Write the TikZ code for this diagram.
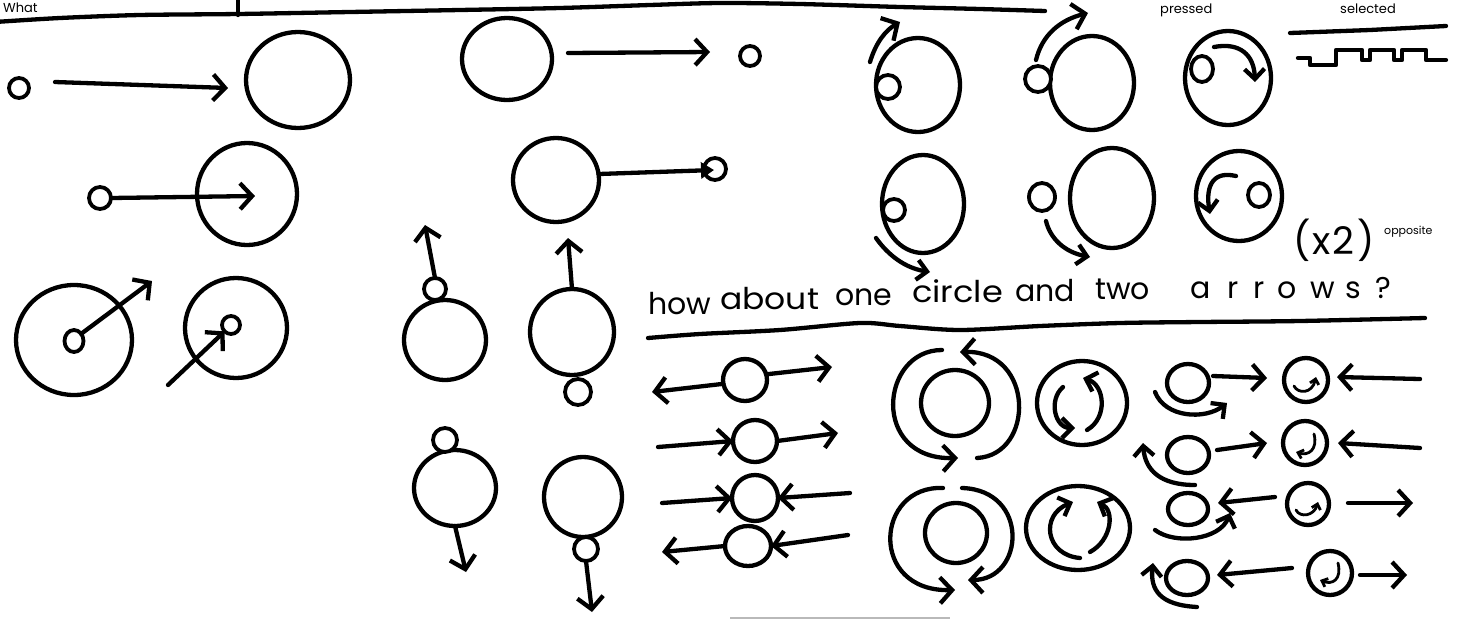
\documentclass[tikz,border=0pt]{standalone}
\usepackage{fontspec}
\setmainfont{Poppins}
\usetikzlibrary{arrows.meta,shapes.geometric}
\begin{document}
\begin{tikzpicture}[x=1pt,y=-1pt,
  ln/.style={line width=4.3pt,line cap=round,line join=round},
  ring/.style={draw,ellipse,line width=4.3pt,inner sep=0pt,outer sep=0pt},
  dot/.style={draw,ellipse,line width=3.8pt,inner sep=0pt,outer sep=0pt,fill=white},
  arr/.style={ln,-{Straight Barb[length=12pt,width=26pt]}},
  sarr/.style={ln,-{Straight Barb[length=10pt,width=20pt]}},
  tarr/.style={line width=2.8pt,line cap=round,-{Straight Barb[length=5pt,width=9pt]}},
  hand/.style={font=\fontsize{30}{30}\selectfont,inner sep=0pt,anchor=base west}
]
\useasboundingbox (0,0) rectangle (1467,619);
\clip (0,0) rectangle (1467,619);
\fill[white] (0,0) rectangle (1467,619);

% ---------- header ----------
\draw[ln] plot[smooth] coordinates {(-5,22) (60,18) (140,15) (238,14) (350,12) (460,10) (560,8) (650,5) (720,3) (800,4) (900,7) (980,9) (1045,11)};
\draw[ln] (238,-2) -- (238,15);
\node[hand,font=\fontsize{13}{13}\selectfont] (tWhat) at (3,12) {What};
\node[hand,font=\fontsize{13}{13}\selectfont] (tPressed) at (1160,13) {pressed};
\node[hand,font=\fontsize{13}{13}\selectfont] (tSelected) at (1340,13) {selected};
\draw[ln] (1290,33) -- (1370,30) -- (1446,26);
\draw[ln] (1298,58)--(1310,58)--(1310,65)--(1336,65)--(1336,50)--(1362,50)--(1362,60)--(1370,60)--(1370,50)--(1394,50)--(1394,60)--(1402,60)--(1402,50)--(1426,50)--(1426,60)--(1446,60);

% ---------- left block ----------
\node[dot,minimum size=20pt] (l1s) at (19,88) {};
\node[ring,minimum width=104pt,minimum height=96pt] (l1b) at (298,80) {};
\coordinate (l1a) at (55,82);
\coordinate (l1e) at (228,88);
\draw[arr] (l1a) -- (l1e);

\node[ring,minimum width=90pt,minimum height=82pt] (l2b) at (507,59) {};
\node[dot,minimum size=20pt] (l2s) at (750,56) {};
\coordinate (l2a) at (568,53);
\coordinate (l2e) at (710,52);
\draw[arr] (l2a) -- (l2e);

\node[ring,minimum width=86pt,minimum height=84pt] (l3b) at (556,180) {};
\node[dot,minimum size=22pt] (l3s) at (715,169) {};
\coordinate (l3e) at (714,170);
\draw[ln,-{Triangle[length=13pt,width=16pt]}] (l3b.8) -- (l3e);

\node[ring,minimum width=100pt,minimum height=102pt] (l4b) at (247,194) {};
\node[dot,minimum size=22pt] (l4s) at (100,198) {};
\coordinate (l4e) at (255,196);
\draw[arr] (l4s.east) -- (l4e);

\node[ring,minimum width=116pt,minimum height=110pt] (l5b) at (74,340) {};
\node[dot,minimum width=19pt,minimum height=22pt] (l5s) at (74,341) {};
\coordinate (l5e) at (152,281);
\draw[arr] (l5s.45) -- (l5e);

\node[ring,minimum width=102pt,minimum height=100pt] (l6b) at (236,328) {};
\node[dot,minimum size=18pt] (l6s) at (231,325) {};
\coordinate (l6a) at (168,385);
\draw[arr] (l6a) -- (l6s.225);

% ---------- middle block ----------
\node[ring,minimum width=82pt,minimum height=80pt] (mA) at (445,340) {};
\node[dot,minimum size=22pt] (mAs) at (435,289) {};
\coordinate (mAe) at (425,225);
\draw[arr] (mAs.north) -- (mAe);

\node[ring,minimum width=84pt,minimum height=86pt] (mB) at (572,332) {};
\node[dot,minimum size=26pt] (mBs) at (578,392) {};
\coordinate (mBe) at (568,238);
\draw[arr] (mB.north) -- (mBe);

\node[ring,minimum width=82pt,minimum height=76pt] (mC) at (455,488) {};
\node[dot,minimum size=24pt] (mCs) at (445,440) {};
\coordinate (mCe) at (466,572);
\draw[arr] (mC.south) -- (mCe);

\node[ring,minimum width=78pt,minimum height=80pt] (mD) at (583,497) {};
\node[dot,minimum size=24pt] (mDs) at (586,549) {};
\coordinate (mDe) at (592,612);
\draw[arr] (mDs.south) -- (mDe);

% ---------- top-right block ----------
\node[ring,minimum width=84pt,minimum height=94pt] (tA) at (918,85) {};
\node[dot,minimum size=24pt] (tAs) at (888,87) {};
\draw[arr] (870,62) .. controls (876,42) and (886,30) .. (900,22);

\node[ring,minimum width=84pt,minimum height=94pt] (tB) at (1092,83) {};
\node[dot,minimum size=26pt] (tBs) at (1038,79) {};
\draw[arr] (1036,60) .. controls (1042,35) and (1060,20) .. (1088,13);

\node[ring,minimum width=86pt,minimum height=94pt] (tC) at (1228,78) {};
\node[dot,minimum width=22pt,minimum height=26pt] (tCs) at (1202,69) {};
\draw[sarr] (1214,47) .. controls (1240,42) and (1254,55) .. (1255,82);

\node[ring,minimum width=82pt,minimum height=98pt] (tD) at (923,204) {};
\node[dot,minimum size=22pt] (tDs) at (894,210) {};
\draw[sarr] (876,238) .. controls (888,255) and (905,268) .. (930,272);

\node[ring,minimum width=84pt,minimum height=100pt] (tE) at (1112,198) {};
\node[dot,minimum width=26pt,minimum height=28pt] (tEs) at (1042,197) {};
\draw[sarr] (1046,221) .. controls (1050,238) and (1064,252) .. (1090,257);

\node[ring,minimum width=86pt,minimum height=90pt] (tF) at (1239,196) {};
\node[dot,minimum width=22pt,minimum height=24pt] (tFs) at (1259,195) {};
\draw[sarr] (1236,176) .. controls (1210,170) and (1206,190) .. (1210,214);

\node[font=\fontsize{38}{38}\selectfont,inner sep=0pt] (tX2) at (1334,240) {(\kern2pt x\kern1pt 2\kern3pt)};
\node[font=\fontsize{11}{11}\selectfont,inner sep=0pt,anchor=west] (tOpp) at (1384,232) {opposite};

% ---------- question ----------
\node[hand] (w1) at (648,314) {how};
\node[hand] (w2) at (720,309) {\scalebox{1.1}[1]{about}};
\node[hand] (w3) at (835,305) {one};
\node[hand] (w4) at (912,302) {\scalebox{1.12}[1]{circle}};
\node[hand] (w5) at (1015,301) {and};
\node[hand] (w6) at (1095,299) {two};
\node[hand] (w7) at (1190,298) {a\kern17pt r\kern15pt r\kern13pt o\kern13pt w\kern11pt s\kern14pt ?};
\draw[ln] plot[smooth] coordinates {(648,338) (700,334) (780,330) (860,323) (900,326) (960,330) (1040,326) (1120,323) (1200,322) (1300,321) (1425,318)};

% ---------- bottom-left rows ----------
\node[ring,minimum width=44pt,minimum height=42pt] (b1) at (745,380) {};
\draw[arr] (b1.190) -- (652,392);
\draw[arr] (b1.15) -- (832,367);
\node[ring,minimum width=44pt,minimum height=42pt] (b2) at (755,441) {};
\draw[arr] (658,447) -- (b2.west);
\draw[arr] (b2.east) -- (838,433);
\node[ring,minimum width=46pt,minimum height=46pt] (b3) at (755,498) {};
\draw[arr] (662,503) -- (b3.west);
\draw[arr] (850,493) -- (b3.east);
\node[ring,minimum width=46pt,minimum height=40pt] (b4) at (748,546) {};
\draw[arr] (b4.west) -- (662,552);
\draw[arr] (848,535) -- (b4.east);

% ---------- rotating rings ----------
\node[ring,minimum width=68pt,minimum height=66pt] (rg1) at (955,403) {};
\draw[arr] (942,350) .. controls (880,350) and (870,460) .. (958,458);
\draw[arr] (977,458) .. controls (1035,455) and (1035,350) .. (960,352);
\node[ring,minimum width=62pt,minimum height=60pt] (rg2) at (956,533) {};
\draw[arr] (943,488) .. controls (875,485) and (868,592) .. (955,590);
\draw[arr] (962,488) .. controls (1030,490) and (1025,580) .. (968,580);

\node[ring,minimum width=90pt,minimum height=84pt] (sr1) at (1082,403) {};
\draw[sarr] (1063,387) .. controls (1048,400) and (1055,428) .. (1075,428);
\draw[sarr] (1087,430) .. controls (1108,418) and (1105,385) .. (1083,378);
\node[ring,minimum width=104pt,minimum height=84pt] (sr2) at (1078,528) {};
\draw[sarr] (1080,558) .. controls (1045,555) and (1040,515) .. (1073,502);
\draw[sarr] (1090,552) .. controls (1112,540) and (1115,510) .. (1097,502);

% ---------- right column ----------
\node[ring,minimum width=42pt,minimum height=38pt] (c1) at (1188,383) {};
\node[ring,minimum size=44pt] (d1) at (1306,380) {};
\draw[sarr] (1155,392) .. controls (1165,418) and (1205,420) .. (1227,403);
\draw[arr] (1213,376) -- (1267,378);
\draw[tarr] (1294,386) .. controls (1298,394) and (1312,394) .. (1316,377);
\draw[arr] (1420,379) -- (1337,377);

\node[ring,minimum width=42pt,minimum height=36pt] (c2) at (1188,455) {};
\node[ring,minimum size=44pt] (d2) at (1305,443) {};
\draw[sarr] (1195,485) .. controls (1160,485) and (1145,470) .. (1143,443);
\draw[arr] (1217,450) -- (1267,443);
\draw[tarr] (1314,434) .. controls (1318,450) and (1308,456) .. (1296,452);
\draw[arr] (1420,448) -- (1338,443);

\node[ring,minimum width=40pt,minimum height=32pt] (c3) at (1188,509) {};
\node[ring,minimum size=42pt] (d3) at (1308,504) {};
\draw[sarr] (1155,530) .. controls (1175,545) and (1220,540) .. (1230,513);
\draw[arr] (1275,497) -- (1218,503);
\draw[tarr] (1296,510) .. controls (1300,518) and (1314,516) .. (1318,502);
\draw[arr] (1348,503) -- (1413,503);

\node[ring,minimum width=42pt,minimum height=34pt] (c4) at (1187,578) {};
\node[ring,minimum size=44pt] (d4) at (1330,573) {};
\draw[sarr] (1197,607) .. controls (1160,605) and (1150,590) .. (1153,563);
\draw[arr] (1292,568) -- (1217,575);
\draw[tarr] (1338,563) .. controls (1342,580) and (1332,585) .. (1320,580);
\draw[arr] (1360,575) -- (1407,575);

\draw[gray!55,line width=2pt] (730,618) -- (950,618);
\end{tikzpicture}
\end{document}
